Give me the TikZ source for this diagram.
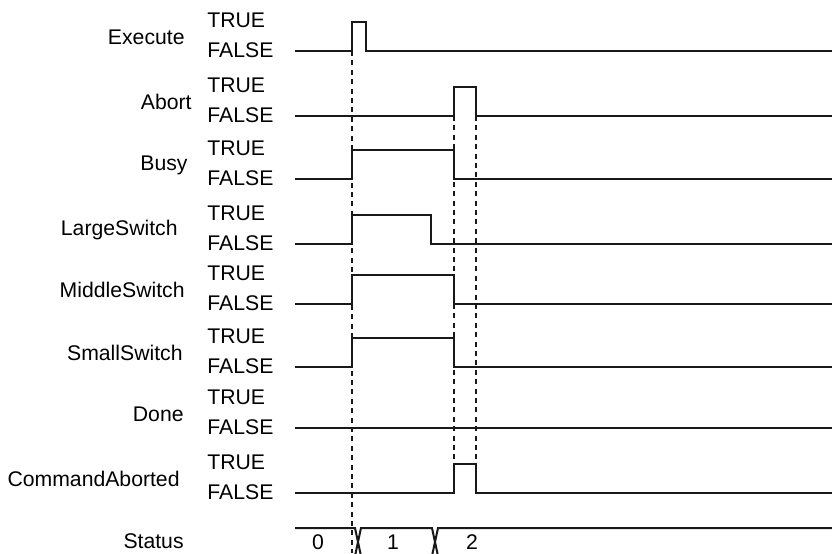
\documentclass[tikz,border=0pt]{standalone}
\usepackage{fontspec}
\setmainfont{Liberation Sans}
\usetikzlibrary{positioning}

\begin{document}
\begin{tikzpicture}[x=0.5pt, y=-0.5pt, font=\fontsize{10.6}{12}\selectfont,
  wave/.style={draw=black!90, line width=1pt, line join=miter},
  guide/.style={draw=black!90, line width=1pt, dash pattern=on 2.5pt off 2.2pt},
  lvl/.style={anchor=west, inner sep=0pt},
  sig/.style={anchor=east, inner sep=0pt}]
\clip (0,0) rectangle (832,553);
% Signal names with their TRUE/FALSE levels (right edge, low line).
\foreach \nm/\xr/\lo [count=\i] in {Execute/185/51, Abort/192/116, Busy/188/179,
    LargeSwitch/178/244, MiddleSwitch/185/304, SmallSwitch/183/367,
    Done/184/428, CommandAborted/180/493} {
  \node[sig] (name\i) at (\xr,\lo-14) {\nm};
  \node[lvl] (true\i) at (207,\lo-31) {TRUE};
  \node[lvl] (false\i) at (207,\lo-1) {FALSE};
}
\node[sig] (status) at (184,541) {Status};
% Waveforms.
\draw[wave] (295,51)--(352,51)--(352,22)--(366,22)--(366,51)--(832,51);
\draw[wave] (295,116)--(454,116)--(454,87)--(476,87)--(476,116)--(832,116);
\draw[wave] (295,179)--(352,179)--(352,150)--(454,150)--(454,179)--(832,179);
\draw[wave] (295,244)--(352,244)--(352,215)--(431,215)--(431,244)--(832,244);
\draw[wave] (295,304)--(352,304)--(352,275)--(454,275)--(454,304)--(832,304);
\draw[wave] (295,367)--(352,367)--(352,338)--(454,338)--(454,367)--(832,367);
\draw[wave] (295,428)--(832,428);
\draw[wave] (295,493)--(454,493)--(454,464)--(476,464)--(476,493)--(832,493);
% Status bus.
\draw[wave] (295,528)--(355,528)--(361,556);
\draw[wave] (355,556)--(361,528)--(432,528)--(438,556);
\draw[wave] (432,556)--(438,528)--(832,528);
\node (st0) at (318,542) {0};
\node (st1) at (393,542) {1};
\node (st2) at (472,542) {2};
% Timing guides.
\draw[guide] (352,51)--(352,553);
\draw[guide] (454,116)--(454,464);
\draw[guide] (476,116)--(476,464);
\end{tikzpicture}
\end{document}
